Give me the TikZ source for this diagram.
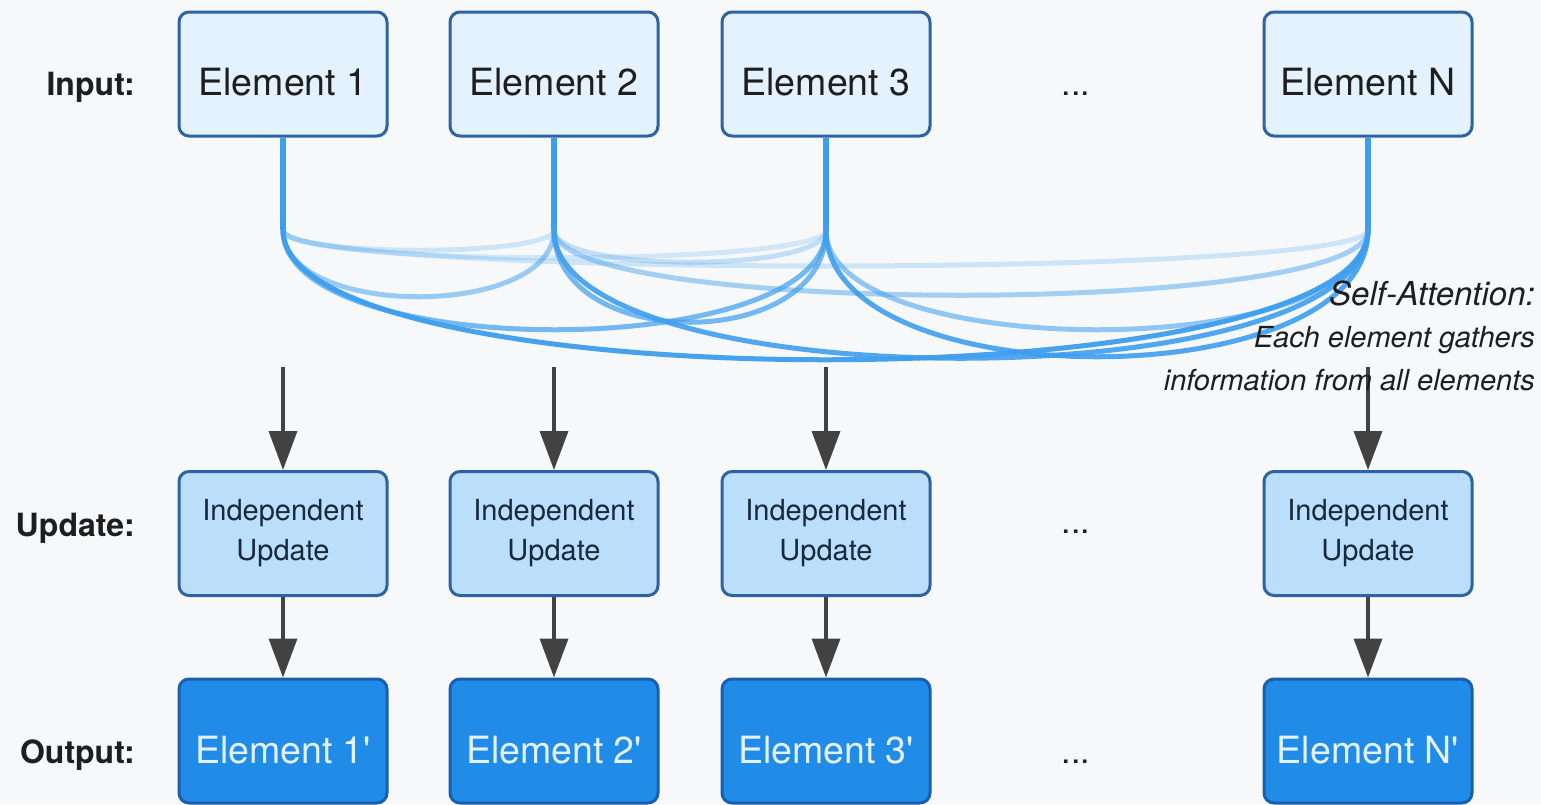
\documentclass[tikz,border=0pt]{standalone}
\usepackage{fontspec}
\setmainfont{TeX Gyre Heros}
\usetikzlibrary{arrows.meta,calc}
\definecolor{bg}{RGB}{246,248,250}
\definecolor{inFill}{RGB}{227,242,253}
\definecolor{upFill}{RGB}{187,222,251}
\definecolor{outFill}{RGB}{33,140,232}
\definecolor{boxEdge}{RGB}{45,98,165}
\definecolor{outEdge}{RGB}{25,95,175}
\definecolor{attBlue}{RGB}{62,158,238}
\definecolor{arrowGray}{RGB}{66,66,66}
\definecolor{txtDark}{RGB}{30,30,30}
\definecolor{upTxt}{RGB}{25,40,60}
\definecolor{outTxt}{RGB}{227,242,253}
\begin{document}
\begin{tikzpicture}[x=1pt,y=-1pt,
 box/.style={draw, line width=3pt, rounded corners=10pt, minimum width=208pt, minimum height=124pt, inner sep=0pt},
 inbox/.style={box, fill=inFill, draw=boxEdge, text=txtDark, font=\fontsize{37.5}{44}\selectfont, text height=42pt, text depth=0pt},
 upbox/.style={box, fill=upFill, draw=boxEdge, text=upTxt, font=\fontsize{29}{40}\selectfont, align=center},
 outbox/.style={box, fill=outFill, draw=outEdge, text=outTxt, font=\fontsize{37.5}{44}\selectfont, text height=44pt, text depth=0pt},
 rowlabel/.style={anchor=base east, inner sep=0pt, font=\bfseries\fontsize{32}{38}\selectfont, text=txtDark},
 dots/.style={anchor=base, inner sep=0pt, font=\fontsize{34}{40}\selectfont, text=txtDark},
 stem/.style={draw=attBlue, line width=5.5pt},
 att/.style={draw=attBlue, line width=5pt},
 flow/.style={draw=arrowGray, line width=3.5pt, -{Triangle[length=39pt,width=28pt]}},
 note/.style={anchor=base east, inner sep=0pt, font=\itshape\fontsize{29}{34}\selectfont, text=txtDark},
]
\fill[bg] (0,0) rectangle (1541,804);
\useasboundingbox (0,0) rectangle (1541,804);

% row labels
\node[rowlabel] (lin) at (135,95) {Input:};
\node[rowlabel] (lup) at (135,536) {Update:};
\node[rowlabel] (lout) at (135,763) {Output:};

% input boxes
\node[inbox] (i1) at (283,74) {Element 1};
\node[inbox] (i2) at (554,74) {Element 2};
\node[inbox] (i3) at (826,74) {Element 3};
\node[inbox] (i4) at (1368,74) {Element N};
\node[dots] (d1) at (1076,95) {...};

% update boxes
\node[upbox] (u1) at (283,533.5) {Independent\\Update};
\node[upbox] (u2) at (554,533.5) {Independent\\Update};
\node[upbox] (u3) at (826,533.5) {Independent\\Update};
\node[upbox] (u4) at (1368,533.5) {Independent\\Update};
\node[dots] (d2) at (1076,533) {...};

% output boxes
\node[outbox] (o1) at (283,741) {Element 1\textquotesingle};
\node[outbox] (o2) at (554,741) {Element 2\textquotesingle};
\node[outbox] (o3) at (826,741) {Element 3\textquotesingle};
\node[outbox] (o4) at (1368,741) {Element N\textquotesingle};
\node[dots] (d3) at (1076,763) {...};

% attention points
\coordinate (k1) at (283,230);
\coordinate (k2) at (554,230);
\coordinate (k3) at (826,230);
\coordinate (k4) at (1368,230);

\draw[stem] (i1) -- (k1);
\draw[stem] (i2) -- (k2);
\draw[stem] (i3) -- (k3);
\draw[stem] (i4) -- (k4);

% faint curves
\draw[att, opacity=0.22] (k1) .. controls ($(k1)+(0,27)$) and ($(k2)+(0,27)$) .. (k2);
\draw[att, opacity=0.20] (k1) .. controls ($(k1)+(0,37)$) and ($(k3)+(0,37)$) .. (k3);
\draw[att, opacity=0.22] (k1) .. controls ($(k1)+(0,48)$) and ($(k4)+(0,48)$) .. (k4);
\draw[att, opacity=0.28] (k2) .. controls ($(k2)+(0,43)$) and ($(k3)+(0,43)$) .. (k3);
% medium curves
\draw[att, opacity=0.50] (k1) .. controls ($(k1)+(0,89)$) and ($(k2)+(0,89)$) .. (k2);
\draw[att, opacity=0.45] (k2) .. controls ($(k2)+(0,87)$) and ($(k4)+(0,87)$) .. (k4);
\draw[att, opacity=0.55] (k3) .. controls ($(k3)+(0,133)$) and ($(k4)+(0,133)$) .. (k4);
\draw[att, opacity=0.70] (k1) .. controls ($(k1)+(0,133)$) and ($(k3)+(0,133)$) .. (k3);
\draw[att, opacity=0.70] (k2) .. controls ($(k2)+(0,123)$) and ($(k3)+(0,123)$) .. (k3);
% strong curves
\draw[att, opacity=0.90] (k3) .. controls ($(k3)+(0,169)$) and ($(k4)+(0,169)$) .. (k4);
\draw[att, opacity=0.90] (k2) .. controls ($(k2)+(0,171)$) and ($(k4)+(0,171)$) .. (k4);
\draw[att, opacity=0.95] (k1) .. controls ($(k1)+(0,173)$) and ($(k4)+(0,173)$) .. (k4);

% arrows into update
\coordinate (g1) at (283,367);
\coordinate (g2) at (554,367);
\coordinate (g3) at (826,367);
\coordinate (g4) at (1368,367);
\draw[flow] (g1) -- (u1);
\draw[flow] (g2) -- (u2);
\draw[flow] (g3) -- (u3);
\draw[flow] (g4) -- (u4);

% arrows into output
\draw[flow] (u1) -- (o1);
\draw[flow] (u2) -- (o2);
\draw[flow] (u3) -- (o3);
\draw[flow] (u4) -- (o4);

% self-attention note
\node[note, font=\itshape\fontsize{33}{38}\selectfont] (sa1) at (1535,305) {Self-Attention:};
\node[note] (sa2) at (1535,347) {Each element gathers};
\node[note] (sa3) at (1535,390) {information from all elements};
\end{tikzpicture}
\end{document}
